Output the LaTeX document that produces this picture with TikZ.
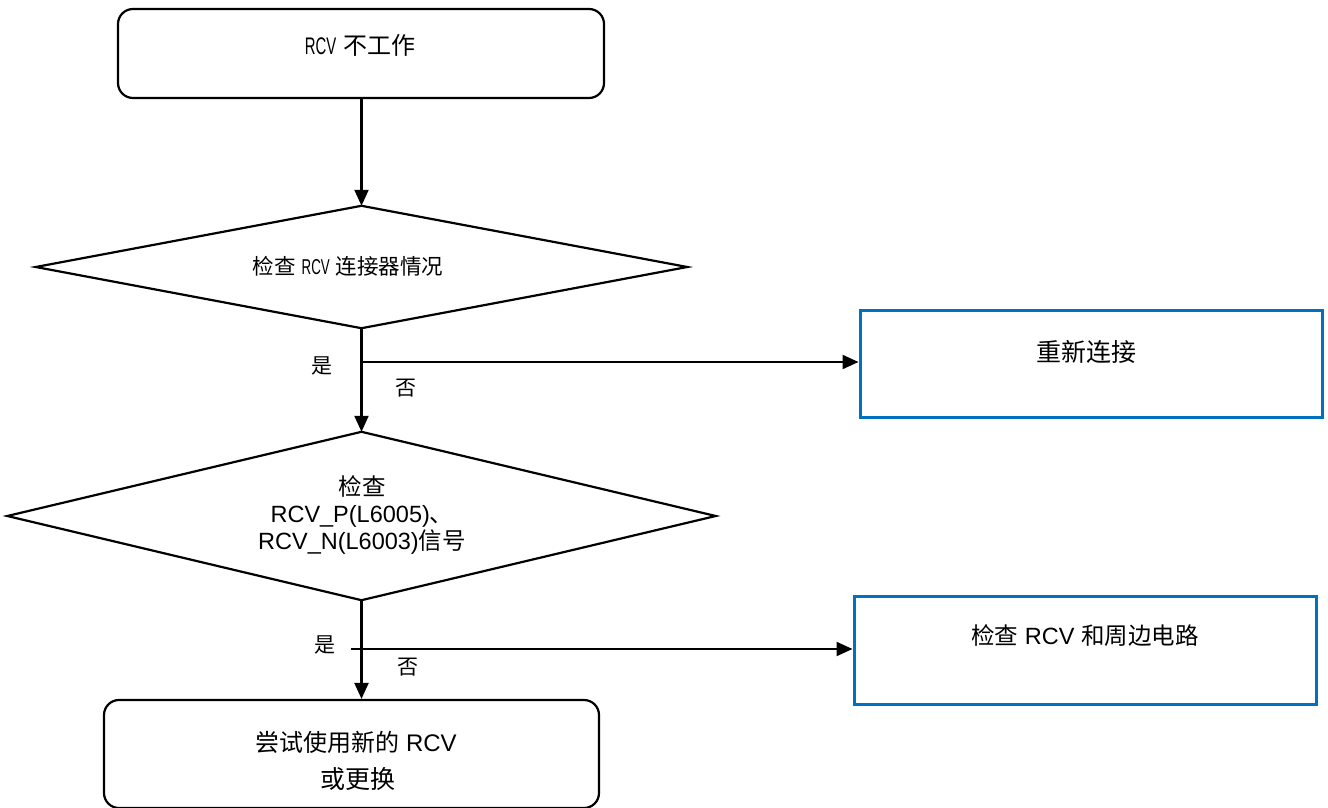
\documentclass[tikz,border=0pt]{standalone}
\usepackage{fontspec}
\setmainfont{Liberation Sans}
\newfontfamily\cjk{Noto Sans CJK SC}
\newfontfamily\narrowlat[FakeStretch=0.62]{Liberation Sans}
\usetikzlibrary{arrows.meta,calc}
\definecolor{boxblue}{RGB}{0,112,192}
\tikzset{
  flowline/.style={line width=2.2pt, draw=black},
  arr/.style={flowline, -{Triangle[length=16pt,width=14pt]}},
  roundbox/.style={draw=black, line width=2.2pt, rounded corners=15pt, inner sep=0pt},
  bluebox/.style={draw=boxblue, line width=3pt, inner sep=0pt},
  dshape/.style={inner sep=0pt},
  txt/.style={inner sep=0pt, font=\fontsize{24}{28}\selectfont, align=center},
  lab/.style={inner sep=0pt, font=\cjk\fontsize{21}{24}\selectfont},
}
\begin{document}
\begin{tikzpicture}[x=1pt,y=-1pt]
\useasboundingbox (0,0) rectangle (1328,808);
% boxes
\node[roundbox, minimum width=486pt, minimum height=89pt] (b1) at (361,53.5) {};
\node[txt, font=\fontsize{24}{28}\selectfont] (t1) at (360,45) {{\narrowlat RCV} {\cjk 不工作}};
\node[dshape, minimum width=651pt, minimum height=122pt] (d1) at (361.5,267) {};
\draw[flowline] (d1.north) -- (d1.east) -- (d1.south) -- (d1.west) -- cycle;
\node[txt, font=\fontsize{21.5}{25}\selectfont] (t2) at (348,266) {{\cjk 检查} {\narrowlat RCV} {\cjk 连接器情况}};
\node[bluebox, minimum width=462pt, minimum height=107pt] (r1) at (1091,363.5) {};
\node[txt, font=\cjk\fontsize{25}{28}\selectfont] (t3) at (1086,352) {重新连接};
\node[dshape, minimum width=708pt, minimum height=168pt] (d2) at (361.5,516) {};
\draw[flowline] (d2.north) -- (d2.east) -- (d2.south) -- (d2.west) -- cycle;
\node[txt, font=\fontsize{23.5}{27}\selectfont] (t4) at (362,515) {{\cjk 检查}\\RCV\_P(L6005){\cjk 、}\\RCV\_N(L6003){\cjk 信号}};
\node[bluebox, minimum width=462pt, minimum height=108pt] (r2) at (1085,650) {};
\node[txt, font=\fontsize{23.5}{27}\selectfont] (t5) at (1085,636) {{\cjk 检查} RCV {\cjk 和周边电路}};
\node[roundbox, minimum width=495pt, minimum height=108pt] (b2) at (351.5,754) {};
\node[txt] (t6) at (356,742) {{\cjk 尝试使用新的} RCV};
\node[txt, font=\cjk\fontsize{25}{28}\selectfont] (t7) at (358,779) {或更换};
% connectors
\draw[arr] (b1.south -| d1.north) -- (d1.north);
\draw[arr] (d1.south) -- (d2.north);
\coordinate (j1) at (361.5,362);
\draw[arr] (j1) -- (j1 -| r1.west);
\draw[arr] (d2.south) -- (d2.south |- b2.north);
\coordinate (j2) at (351,649);
\draw[arr] (j2) -- (j2 -| r2.west);
% labels
\node[lab] (y1) at (322,366) {是};
\node[lab] (n1) at (406,388) {否};
\node[lab] (y2) at (325,645) {是};
\node[lab] (n2) at (408,667) {否};
\end{tikzpicture}
\end{document}
